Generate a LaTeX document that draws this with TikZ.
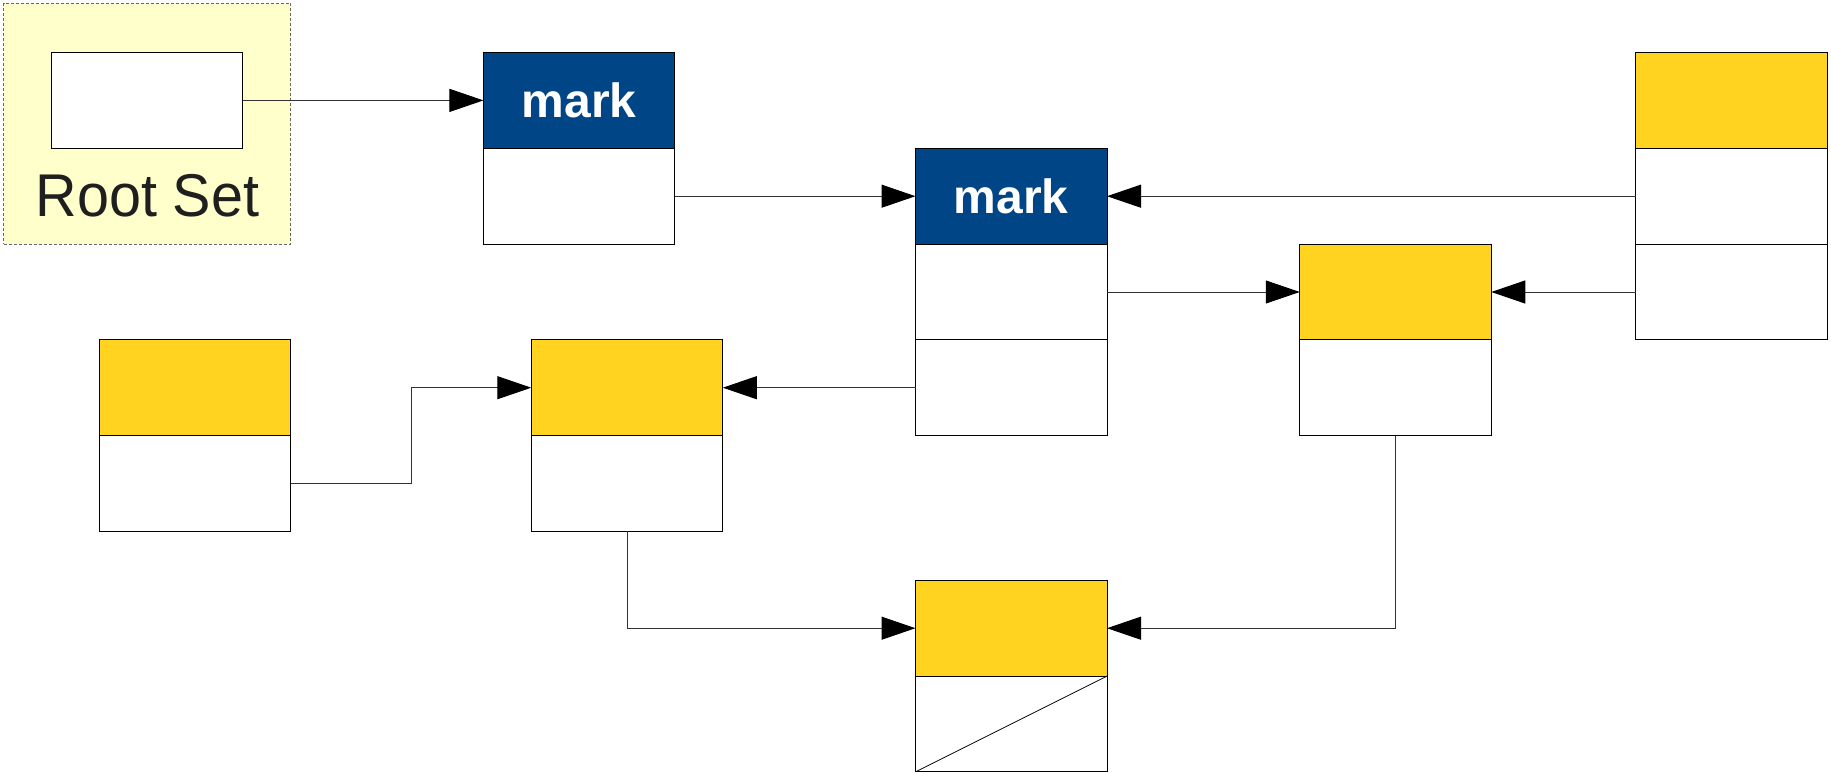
\documentclass[tikz,border=0pt]{standalone}
\usepackage{fontspec}
\setmainfont{Liberation Sans}
\usetikzlibrary{arrows.meta}
\definecolor{ublue}{HTML}{004586}
\definecolor{uyellow}{HTML}{FFD320}
\definecolor{rootbg}{HTML}{FFFFCC}
\begin{document}
\begin{tikzpicture}[x=1pt,y=-1pt,
 cell/.style={draw=black,line width=1pt,minimum width=191.5pt,minimum height=95.8pt,inner sep=0pt,outer sep=0pt,anchor=center},
 ycell/.style={cell,fill=uyellow},
 bcell/.style={cell,fill=ublue,text=white,font=\bfseries\fontsize{48}{48}\selectfont},
 wcell/.style={cell,fill=white},
 link/.style={line width=1pt,draw=black!80,-{Triangle[length=34pt,width=23pt,color=black]}}]
\fill[white] (0,0) rectangle (1831,773);
\useasboundingbox (0,0) rectangle (1831,773);
% root set
\node[draw=black!60, dash pattern=on 3pt off 2pt, fill=rootbg, minimum width=287.3pt, minimum height=240.5pt, inner sep=0pt, line width=1pt] (root) at (147.15,123.75) {};
\node[font=\fontsize{57.5}{57.5}\selectfont, text=black!88, inner sep=0pt, yscale=1.05] (rootlabel) at (147.5,196) {Root Set};
\node[wcell] (A) at (147.15,100.4) {};
% marked objects
\node[bcell] (B1) at (579.2,100.4) {mark};
\node[wcell] (B2) at (579.2,196.2) {};
\node[bcell] (C1) at (1011.25,196.2) {mark};
\node[wcell] (C2) at (1011.25,292.0) {};
\node[wcell] (C3) at (1011.25,387.7) {};
% unmarked objects
\node[ycell] (D1) at (1731.7,100.4) {};
\node[wcell] (D2) at (1731.7,196.2) {};
\node[wcell] (D3) at (1731.7,292.0) {};
\node[ycell] (E1) at (1395.5,292.0) {};
\node[wcell] (E2) at (1395.5,387.7) {};
\node[ycell] (F1) at (195.05,387.7) {};
\node[wcell] (F2) at (195.05,483.5) {};
\node[ycell] (G1) at (627.05,387.7) {};
\node[wcell] (G2) at (627.05,483.5) {};
\node[ycell] (H1) at (1011.25,628.2) {};
\node[wcell] (H2) at (1011.25,724.0) {};
\draw[line width=0.8pt] (H2.south west) -- (H2.north east);
% links
\draw[link] (A.east) -- (B1.west);
\draw[link] (B2.east) -- (C1.west);
\draw[link] (D2.west) -- (C1.east);
\draw[link] (C2.east) -- (E1.west);
\draw[link] (D3.west) -- (E1.east);
\draw[link] (C3.west) -- (G1.east);
\draw[link] (F2.east) -- ++(120.2,0) |- (G1.west);
\draw[link] (G2.south) |- (H1.west);
\draw[link] (E2.south) |- (H1.east);
\end{tikzpicture}
\end{document}
